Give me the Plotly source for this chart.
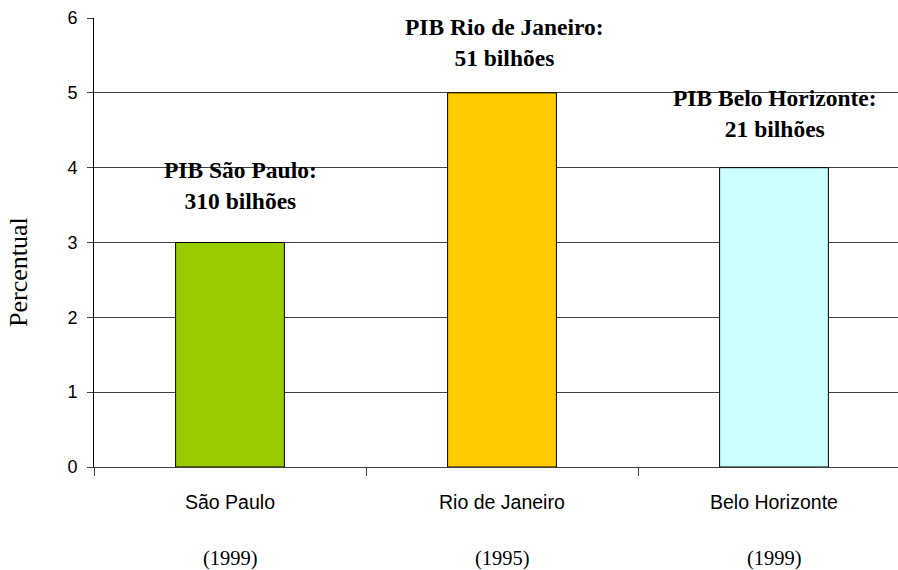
import plotly.graph_objects as go

cities = ["São Paulo", "Rio de Janeiro", "Belo Horizonte"]
years = ["(1999)", "(1995)", "(1999)"]
percentual = [3, 5, 4]
pib_labels = ["<b>PIB São Paulo:</b><br><b>310 bilhões</b>",
              "<b>PIB Rio de Janeiro:</b><br><b>51 bilhões</b>",
              "<b>PIB Belo Horizonte:</b><br><b>21 bilhões</b>"]
bar_colors = ["#99CC00", "#FFCC00", "#CCFFFF"]
y_ticks = [0, 1, 2, 3, 4, 5, 6]

W, H = 898, 570
L, R, T, B = 94, 0, 18, 103
cat_px = 272  # width of one category slot in pixels
x_max = -0.5 + (W - L - R) / cat_px

SERIF = "Liberation Serif, Times New Roman, serif"
SANS = "Liberation Sans, Arial, sans-serif"

xs = list(range(len(cities)))

fig = go.Figure()
fig.add_trace(go.Bar(
    x=xs, y=percentual, width=0.4,
    marker=dict(color=bar_colors, line=dict(color="black", width=1)),
    hoverinfo="skip",
))

annotations = []
label_dx = [10, 2, 1]
label_dy = [57, 50, 54]
for i, (c, yr, v, lab) in enumerate(zip(cities, years, percentual, pib_labels)):
    annotations.append(dict(
        x=i, y=v, xref="x", yref="y", text=lab, showarrow=False,
        xshift=label_dx[i], yshift=label_dy[i], yanchor="middle", align="center",
        font=dict(family=SERIF, size=23.5, color="black"),
    ))
    annotations.append(dict(
        x=i, y=0, xref="x", yref="paper", text=c, showarrow=False,
        yanchor="middle", yshift=-35, font=dict(family=SANS, size=19.5, color="black"),
    ))
    annotations.append(dict(
        x=i, y=0, xref="x", yref="paper", text=yr, showarrow=False,
        yanchor="middle", yshift=-91, font=dict(family=SERIF, size=20.5, color="black"),
    ))

# vertical axis title
annotations.append(dict(
    x=0, y=0, xref="paper", yref="paper", text="Percentual", showarrow=False,
    textangle=-90, xanchor="center", yanchor="middle",
    xshift=18 - L, yshift=(H - B) - 272,
    font=dict(family=SERIF, size=26, color="black"),
))

fig.update_layout(
    width=W, height=H,
    margin=dict(l=L, r=R, t=T, b=B),
    paper_bgcolor="white", plot_bgcolor="white",
    showlegend=False,
    annotations=annotations,
    font=dict(family=SANS, size=18, color="black"),
    xaxis=dict(
        range=[-0.5, x_max], tickmode="array", tickvals=[-0.5, 0.5, 1.5],
        ticktext=["", "", ""], ticks="outside", ticklen=8, tickcolor="#404040",
        showgrid=False, zeroline=False, showline=True, linecolor="#404040", linewidth=1,
        fixedrange=True,
    ),
    yaxis=dict(
        range=[0, 6], tickmode="array", tickvals=y_ticks,
        ticks="outside", ticklen=6, tickcolor="#404040",
        showgrid=True, gridcolor="#404040", gridwidth=1,
        zeroline=False, showline=True, linecolor="black", linewidth=1,
        tickfont=dict(family=SANS, size=18), ticklabelstandoff=6,
    ),
)

fig.write_html("out.html")
